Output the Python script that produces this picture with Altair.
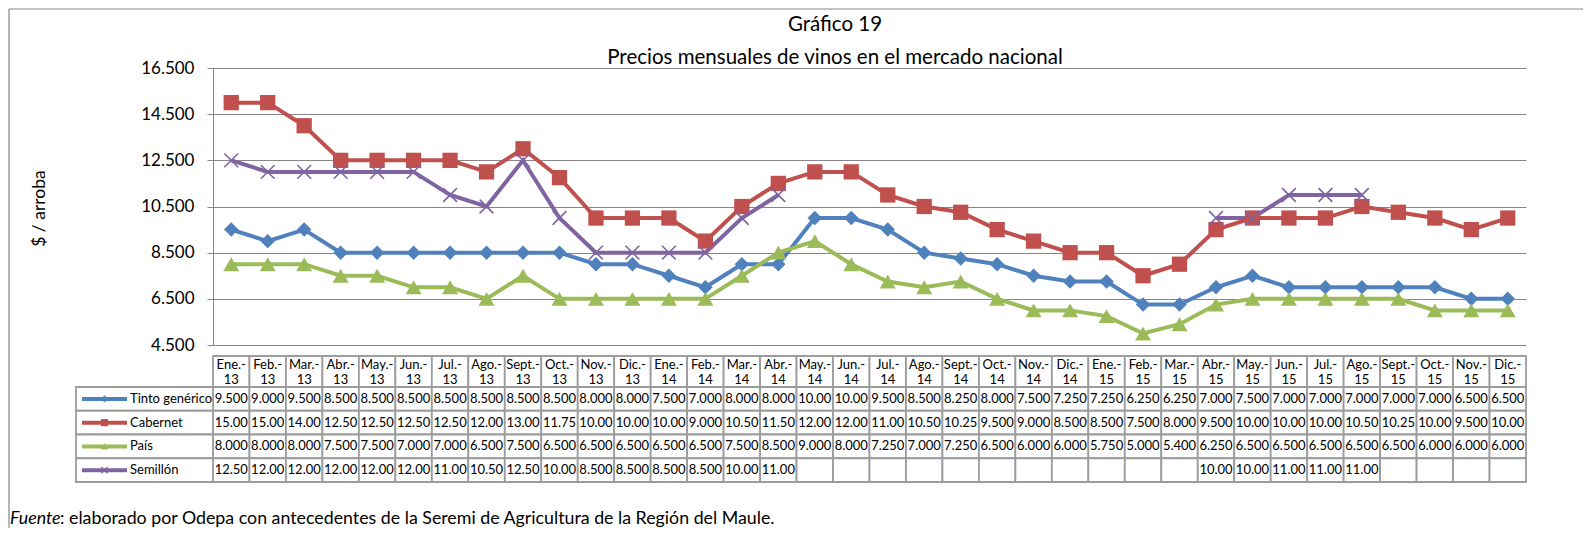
import altair as alt
import pandas as pd

# ---------------- data ----------------
months = ["Ene.", "Feb.", "Mar.", "Abr.", "May.", "Jun.", "Jul.", "Ago.", "Sept.", "Oct.", "Nov.", "Dic."]
years = ["13", "14", "15"]
series = ["Tinto genérico", "Cabernet", "País", "Semillón"]

tinto = [9500, 9000, 9500, 8500, 8500, 8500, 8500, 8500, 8500, 8500, 8000, 8000,
         7500, 7000, 8000, 8000, 10000, 10000, 9500, 8500, 8250, 8000, 7500, 7250,
         7250, 6250, 6250, 7000, 7500, 7000, 7000, 7000, 7000, 7000, 6500, 6500]
cabernet = [15000, 15000, 14000, 12500, 12500, 12500, 12500, 12000, 13000, 11750, 10000, 10000,
            10000, 9000, 10500, 11500, 12000, 12000, 11000, 10500, 10250, 9500, 9000, 8500,
            8500, 7500, 8000, 9500, 10000, 10000, 10000, 10500, 10250, 10000, 9500, 10000]
pais = [8000, 8000, 8000, 7500, 7500, 7000, 7000, 6500, 7500, 6500, 6500, 6500,
        6500, 6500, 7500, 8500, 9000, 8000, 7250, 7000, 7250, 6500, 6000, 6000,
        5750, 5000, 5400, 6250, 6500, 6500, 6500, 6500, 6500, 6000, 6000, 6000]
semillon = [12500, 12000, 12000, 12000, 12000, 12000, 11000, 10500, 12500, 10000, 8500, 8500,
            8500, 8500, 10000, 11000, None, None, None, None, None, None, None, None,
            None, None, None, 10000, 10000, 11000, 11000, 11000, None, None, None, None]

colors = ["#4F81BD", "#C0504D", "#9BBB59", "#8064A2"]
y_ticks = [4500, 6500, 8500, 10500, 12500, 14500, 16500]

title1 = "Gráfico 19"
title2 = "Precios mensuales de vinos en el mercado nacional"
y_title = "$ / arroba"
source_label = "Fuente"
source_text = ": elaborado por Odepa con antecedentes de la Seremi de Agricultura de la Región del Maule."

FONT = "Lato"

# ---------------- tables ----------------
cats = [f"{m}-{y}" for y in years for m in months]
headers = [f"{m}-\n{y}" for y in years for m in months]


def fmt(v):
    if v is None:
        return None
    return f"{int(v):,}".replace(",", ".")[:5]


rows = []
for s, vals in zip(series, [tinto, cabernet, pais, semillon]):
    seg = 0
    for c, v in zip(cats, vals):
        if v is None:
            seg += 1
        rows.append({"cat": c, "serie": s, "value": v, "seg": f"{s}-{seg}", "label": fmt(v)})
df = pd.DataFrame(rows)
df_valid = df[df["value"].notna()]
df_cats = pd.DataFrame({"cat": cats, "header": headers})
df_series = pd.DataFrame({"serie": series})

# ---------------- scales ----------------
x_scale = alt.Scale(type="band", domain=cats, paddingInner=0, paddingOuter=0)
X = alt.X("cat:N", scale=x_scale, axis=None, bandPosition=0.5)
Xband = alt.X("cat:N", scale=x_scale, axis=None)
y_scale = alt.Scale(domain=[4500, 16500], nice=False, zero=False)
Yq = alt.Y("value:Q", scale=y_scale, axis=None)
row_scale = alt.Scale(type="band", domain=series, range=[319, 414], paddingInner=0, paddingOuter=0)
Yrow = alt.Y("serie:N", scale=row_scale, axis=None)
Yrow_c = alt.Y("serie:N", scale=row_scale, axis=None, bandPosition=0.5)
color = alt.Color("serie:N", scale=alt.Scale(domain=series, range=colors), legend=None)
shape_scale = alt.Scale(domain=series[:3], range=["diamond", "square", "triangle-up"])
XPATH = "M-1,-1L1,1M1,-1L-1,1"
GRID = "#868686"
CELL = "#9c9c9c"

y_axis = alt.Axis(
    values=y_ticks,
    labelExpr="replace(format(datum.value, ','), ',', '.')",
    grid=True, gridColor=GRID, gridWidth=1,
    domainColor=GRID, tickColor=GRID, tickSize=6,
    labelFont=FONT, labelFontSize=17, labelColor="black", labelPadding=13,
    title=y_title, titleFont=FONT, titleFontSize=17.5, titleFontWeight="normal",
    titleColor="black", titleX=-174, titleY=140, titleAngle=270,
    titleAlign="center", titleBaseline="middle",
)

# ---------------- plot layers ----------------
lines = alt.Chart(df_valid).mark_line(strokeWidth=4).encode(
    x=X,
    y=alt.Y("value:Q", scale=y_scale, axis=y_axis),
    color=color,
    detail="seg:N",
)

pts = alt.Chart(df_valid[df_valid["serie"] != "Semillón"]).mark_point(filled=True, opacity=1).encode(
    x=X, y=Yq, color=color,
    shape=alt.Shape("serie:N", scale=shape_scale, legend=None),
    size=alt.Size("serie:N", scale=alt.Scale(domain=series[:3], range=[210, 256, 230]), legend=None),
)

xpts = alt.Chart(df_valid[df_valid["serie"] == "Semillón"]).mark_point(
    shape=XPATH, filled=False, strokeWidth=1.6, size=190, opacity=1
).encode(x=X, y=Yq, color=color)

# ---------------- data table ----------------
head_cells = alt.Chart(df_cats).mark_rect(fill="white", stroke=CELL, strokeWidth=1.8).encode(
    x=Xband, y=alt.value(288), y2=alt.value(319)
)
head_text = alt.Chart(df_cats).mark_text(
    lineBreak="\n", font=FONT, fontSize=13, lineHeight=15, baseline="middle", color="black"
).encode(x=X, y=alt.value(296.5), text="header:N")

cells = alt.Chart(df).mark_rect(fill="white", stroke=CELL, strokeWidth=1.8).encode(
    x=Xband, y=Yrow
)
cell_text = alt.Chart(df_valid).mark_text(
    font=FONT, fontSize=13, baseline="middle", color="black"
).encode(x=X, y=Yrow_c, text="label:N")

leg_cells = alt.Chart(df_series).mark_rect(fill="white", stroke=CELL, strokeWidth=1.8).encode(
    x=alt.value(-137), x2=alt.value(0), y=Yrow
)
leg_lines = alt.Chart(df_series).mark_rule(strokeWidth=4).encode(
    x=alt.value(-131), x2=alt.value(-86), y=Yrow_c, color=color
)
leg_pts = alt.Chart(df_series[df_series["serie"] != "Semillón"]).mark_point(
    filled=True, opacity=1, size=50
).encode(
    x=alt.value(-108.5), y=Yrow_c, color=color,
    shape=alt.Shape("serie:N", scale=shape_scale, legend=None),
)
leg_x = alt.Chart(df_series[df_series["serie"] == "Semillón"]).mark_point(
    shape=XPATH, filled=False, strokeWidth=1.2, size=40, opacity=1
).encode(x=alt.value(-108.5), y=Yrow_c, color=color)
leg_text = alt.Chart(df_series).mark_text(
    font=FONT, fontSize=13, baseline="middle", align="left", color="black"
).encode(x=alt.value(-83), y=Yrow_c, text="serie:N")

# ---------------- titles, source, border ----------------
t1 = alt.Chart(pd.DataFrame({"t": [title1]})).mark_text(
    font=FONT, fontSize=20.5, color="black", baseline="middle"
).encode(x=alt.value(622), y=alt.value(-43), text="t:N")
t2 = alt.Chart(pd.DataFrame({"t": [title2]})).mark_text(
    font=FONT, fontSize=20.5, color="black", baseline="middle"
).encode(x=alt.value(622), y=alt.value(-10), text="t:N")
src1 = alt.Chart(pd.DataFrame({"t": [source_label]})).mark_text(
    font=FONT, fontSize=17.8, fontStyle="italic", color="black", baseline="middle", align="left"
).encode(x=alt.value(-203), y=alt.value(451), text="t:N")
src2 = alt.Chart(pd.DataFrame({"t": [source_text]})).mark_text(
    font=FONT, fontSize=17.8, color="black", baseline="middle", align="left"
).encode(x=alt.value(-153), y=alt.value(451), text="t:N")

one = pd.DataFrame({"k": [0]})
border_top = alt.Chart(one).mark_rule(color=GRID, strokeWidth=1.2).encode(
    x=alt.value(-204), x2=alt.value(1372), y=alt.value(-59)
)
border_left = alt.Chart(one).mark_rule(color=GRID, strokeWidth=1.2).encode(
    x=alt.value(-204), y=alt.value(-59), y2=alt.value(470)
)

chart = alt.layer(
    border_top, border_left,
    lines, pts, xpts,
    head_cells, cells, head_text, cell_text,
    leg_cells, leg_lines, leg_pts, leg_x, leg_text,
    t1, t2, src1, src2,
).resolve_scale(
    y="independent"
).properties(
    width=1313, height=277,
    autosize=alt.AutoSizeParams(type="none"),
    padding={"left": 205, "top": 60, "right": 57, "bottom": 183},
    background="white",
).configure_view(stroke=None)

chart.save("out.html", embed_options={"renderer": "svg", "actions": False})
